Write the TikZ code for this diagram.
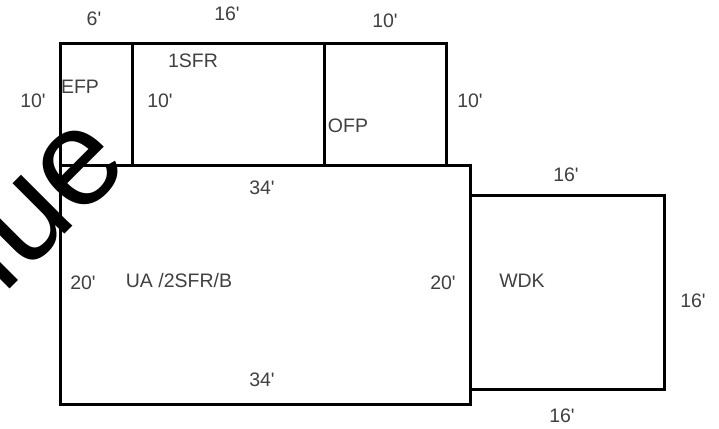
\documentclass[tikz,border=0pt]{standalone}
\usepackage{fontspec}
\newfontfamily\lblfont{Liberation Sans}
\tikzset{
  wall/.style={draw=black,line width=3pt,line join=miter},
  lbl/.style={inner sep=0pt,text=black!75,font=\lblfont\fontsize{19.5}{21}\selectfont}
}
\begin{document}
\begin{tikzpicture}[x=1pt,y=-1pt]
\useasboundingbox (0,0) rectangle (719,428);
\draw[wall] (60.5,44) rectangle (132.5,165);
\draw[wall] (132.5,44) rectangle (324.5,165);
\draw[wall] (324.5,44) rectangle (446,165);
\draw[wall] (60.5,165) rectangle (470,404);
\draw[wall] (470,195) rectangle (664,389);
\node[lbl] (t1) at (94,19) {6'};
\node[lbl] (t2) at (227,14) {16'};
\node[lbl] (t3) at (385,21) {10'};
\node[lbl] (t4) at (33,101) {10'};
\node[lbl] (t5) at (160,101) {10'};
\node[lbl] (t6) at (470,101) {10'};
\node[lbl] (efp) at (80,87) {EFP};
\node[lbl] (sfr) at (193,61) {1SFR};
\node[lbl] (ofp) at (348,126) {OFP};
\node[lbl] (m1) at (262,188) {34'};
\node[lbl] (m2) at (566,175) {16'};
\node[lbl] (m3) at (83,283) {20'};
\node[lbl] (ua) at (179,281) {UA /2SFR/B};
\node[lbl] (m4) at (443,283) {20'};
\node[lbl] (wdk) at (522,281) {WDK};
\node[lbl] (m5) at (693,301) {16'};
\node[lbl] (m6) at (262,380) {34'};
\node[lbl] (m7) at (562,416) {16'};
\node[inner sep=0pt,outer sep=0pt,anchor=base west,rotate=45,text=black,font=\lblfont\fontsize{137}{137}\selectfont] (wm) at (3.5,295.5) {lue};
\end{tikzpicture}
\end{document}
